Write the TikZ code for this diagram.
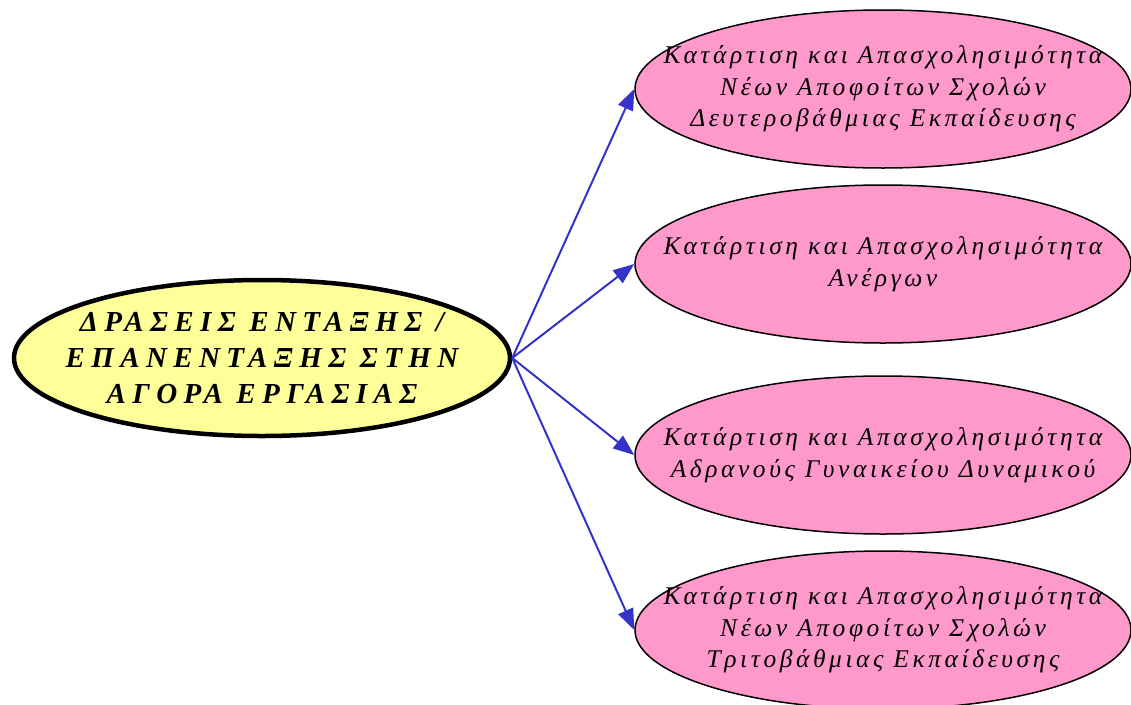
\documentclass[tikz,border=0pt]{standalone}
\usepackage{fontspec}
\setmainfont{Liberation Serif}
\newfontfamily\boxfont[LetterSpace=14]{Liberation Serif}
\newfontfamily\rootfont[LetterSpace=22]{Liberation Serif}
\usetikzlibrary{shapes.geometric}
\usetikzlibrary{arrows.meta, positioning}
\definecolor{rootcolor}{RGB}{255, 255, 153}
\definecolor{leafcolor}{RGB}{255, 153, 204}
\definecolor{linkcolor}{RGB}{51, 51, 204}
\tikzset{
    root/.style={ellipse, draw=black, line width=4.5pt, fill=rootcolor,
        minimum width=496pt, minimum height=156pt, inner xsep=-120pt, inner ysep=-40pt, align=center,
        font=\rootfont\bfseries\itshape\fontsize{29}{36}\selectfont},
    leaf/.style={ellipse, draw=black, line width=1.5pt, fill=leafcolor,
        minimum width=496pt, minimum height=158pt, inner xsep=-120pt, inner ysep=-40pt, align=center,
        font=\boxfont\itshape\fontsize{25.5}{31.5}\selectfont},
    link/.style={draw=linkcolor, line width=2pt, -{Triangle[length=21pt, width=16pt]}}
}

\begin{document}
\begin{tikzpicture}[x=1pt, y=-1pt]
        % Fix the page size
        \useasboundingbox (0, 0) rectangle (1131, 704);

        % Draw the main node
        \node[root] (drasis) at (262, 358) {ΔΡΑΣΕΙΣ ΕΝΤΑΞΗΣ /\\ΕΠΑΝΕΝΤΑΞΗΣ ΣΤΗΝ\\ΑΓΟΡΑ ΕΡΓΑΣΙΑΣ};

        % Draw the four target nodes
        \node[leaf] (deuter) at (883, 89) {Κατάρτιση και Απασχολησιμότητα\\Νέων Αποφοίτων Σχολών\\Δευτεροβάθμιας Εκπαίδευσης};
        \node[leaf] (anergoi) at (883, 264) {Κατάρτιση και Απασχολησιμότητα\\Ανέργων};
        \node[leaf] (gynaikes) at (883, 455) {Κατάρτιση και Απασχολησιμότητα\\Αδρανούς Γυναικείου Δυναμικού};
        \node[leaf] (trit) at (883, 630) {Κατάρτιση και Απασχολησιμότητα\\Νέων Αποφοίτων Σχολών\\Τριτοβάθμιας Εκπαίδευσης};

        % Draw arrows
        \draw[link] (drasis.east) -- (deuter.west);
        \draw[link] (drasis.east) -- (anergoi.west);
        \draw[link] (drasis.east) -- (gynaikes.west);
        \draw[link] (drasis.east) -- (trit.west);
    \end{tikzpicture}
\end{document}
